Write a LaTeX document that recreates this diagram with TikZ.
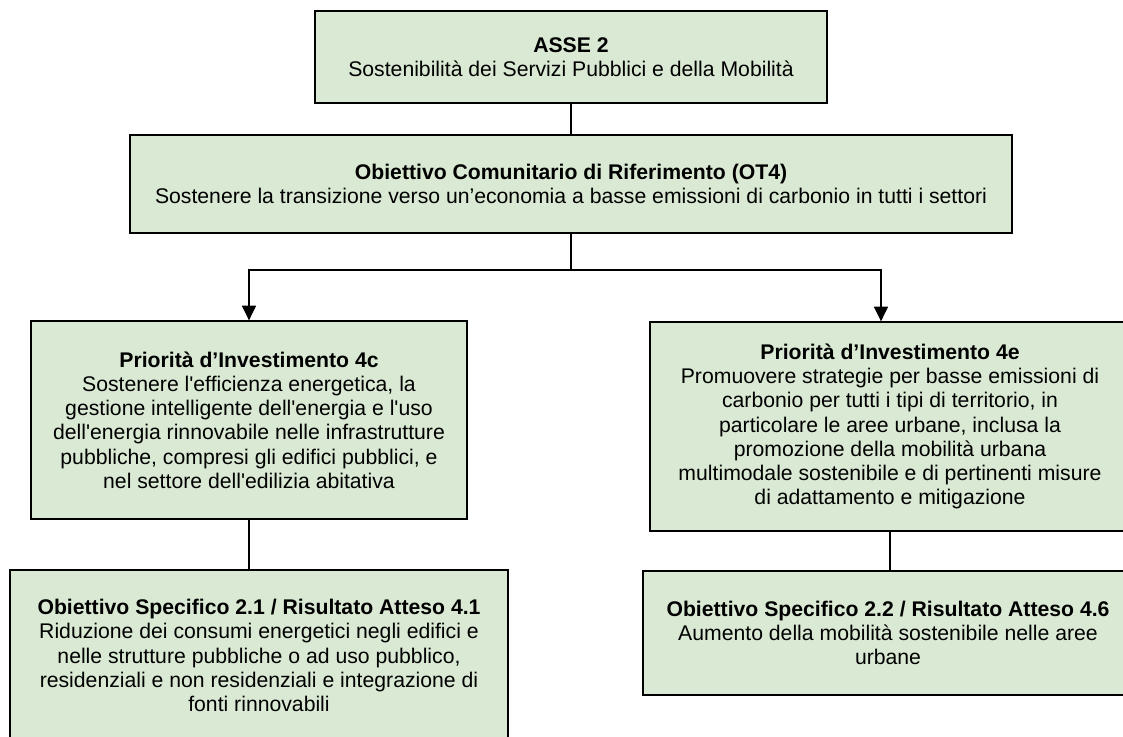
\documentclass[tikz,border=0pt]{standalone}
\usepackage{fontspec}
\setmainfont{Liberation Sans}
\usetikzlibrary{arrows.meta}
\definecolor{boxgreen}{RGB}{217,233,211}
\newcommand{\apo}{\textquotesingle}
\begin{document}
\begin{tikzpicture}[x=0.75pt,y=-0.75pt,
    box/.style={draw,line width=1pt,fill=boxgreen,align=center,inner sep=0pt,
                font=\fontsize{15.9pt}{18.2pt}\selectfont},
    link/.style={line width=1pt},
    arr/.style={line width=1pt,-{Triangle[length=11pt,width=10.5pt]}}]
                \useasboundingbox (0,0) rectangle (1123,736);
                \node [box,minimum width=384pt,minimum height=69pt] (asse) at (571,57)
                    {\textbf{ASSE 2}\\Sostenibilità dei Servizi Pubblici e della Mobilità};
                \node [box,minimum width=661.5pt,minimum height=73.5pt] (ot4) at (571,184)
                    {\textbf{Obiettivo Comunitario di Riferimento (OT4)}\\Sostenere la transizione verso un’economia a basse emissioni di carbonio in tutti i settori};
                \node [box,minimum width=327pt,minimum height=148.5pt] (p4c) at (249,420)
                    {\textbf{Priorità d’Investimento 4c}\\Sostenere l\apo efficienza energetica, la\\gestione intelligente dell\apo energia e l\apo uso\\dell\apo energia rinnovabile nelle infrastrutture\\pubbliche, compresi gli edifici pubblici, e\\nel settore dell\apo edilizia abitativa};
                \node [box,minimum width=360pt,minimum height=156.75pt] (p4e) at (890,426.5)
                    {\textbf{Priorità d’Investimento 4e}\\Promuovere strategie per basse emissioni di\\carbonio per tutti i tipi di territorio, in\\particolare le aree urbane, inclusa la\\promozione della mobilità urbana\\multimodale sostenibile e di pertinenti misure\\di adattamento e mitigazione};
                \node [box,minimum width=373.5pt,minimum height=128.25pt] (o21) at (259,655.5)
                    {\textbf{Obiettivo Specifico 2.1 / Risultato Atteso 4.1}\\Riduzione dei consumi energetici negli edifici e\\nelle strutture pubbliche o ad uso pubblico,\\residenziali e non residenziali e integrazione di\\fonti rinnovabili};
                \node [box,minimum width=367.5pt,minimum height=93pt] (o22) at (888,633)
                    {\textbf{Obiettivo Specifico 2.2 / Risultato Atteso 4.6}\\Aumento della mobilità sostenibile nelle aree\\urbane};
                \coordinate (fork) at (571,270);
                \coordinate (forkr) at (881,270);
                \draw [link] (asse.south) -- (asse.south |- ot4.north);
                \draw [arr] (ot4.south) -- (fork) -| (p4c.north);
                \draw [arr] (fork) -- (forkr) -- (forkr |- p4e.north);
                \draw [link] (p4c.south) -- (p4c.south |- o21.north);
                \draw [link] (p4e.south) -- (p4e.south |- o22.north);
            \end{tikzpicture}
\end{document}
